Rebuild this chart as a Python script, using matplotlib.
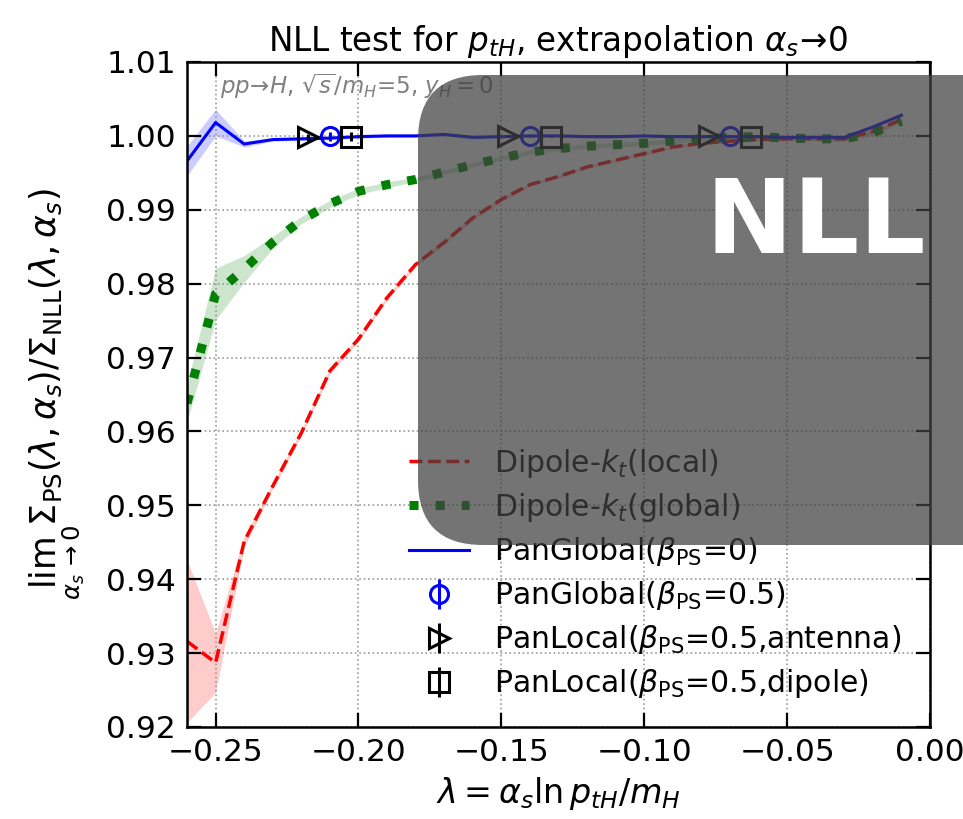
import matplotlib
matplotlib.use("Agg")
import matplotlib.pyplot as plt
from matplotlib.patches import FancyBboxPatch
import numpy as np

# lambda grid of the curves
LAM = [-0.26, -0.25, -0.24, -0.23, -0.22, -0.21, -0.20, -0.19, -0.18,
       -0.17, -0.16, -0.15, -0.14, -0.13, -0.12, -0.11, -0.10, -0.09,
       -0.08, -0.07, -0.06, -0.05, -0.04, -0.03, -0.02, -0.01]

# Dipole-kt (local)
DIP_LOCAL = [0.9316, 0.9287, 0.9451, 0.9526, 0.9598, 0.9682, 0.9725, 0.9781,
             0.9826, 0.9856, 0.9889, 0.9914, 0.9934, 0.9945, 0.9958, 0.9967,
             0.9976, 0.9985, 0.9990, 0.9993, 0.9995, 0.9996, 0.9996, 0.9996,
             1.0006, 1.0022]
DIP_LOCAL_ERR = [0.011, 0.004, 0.0007, 0.0004, 0.0004, 0.0004, 0.0003, 0.0003,
                 0.0003, 0.0003, 0.0003, 0.0003, 0.0002, 0.0002, 0.0002, 0.0002,
                 0.0002, 0.0002, 0.0002, 0.0002, 0.0002, 0.0002, 0.0002, 0.0002,
                 0.0002, 0.0002]

# Dipole-kt (global)
DIP_GLOBAL = [0.9638, 0.9786, 0.9820, 0.9856, 0.9886, 0.9908, 0.9925, 0.9934,
              0.9941, 0.9951, 0.9961, 0.9970, 0.9978, 0.9983, 0.9986, 0.9988,
              0.9990, 0.9993, 0.9996, 0.9998, 0.9999, 0.9997, 0.9996, 0.9996,
              1.0004, 1.0020]
DIP_GLOBAL_ERR = [0.0025, 0.0035, 0.0018, 0.0008, 0.0005, 0.0005, 0.0004, 0.0004,
                  0.0003, 0.0003, 0.0003, 0.0003, 0.0003, 0.0003, 0.0003, 0.0003,
                  0.0003, 0.0003, 0.0003, 0.0003, 0.0003, 0.0003, 0.0003, 0.0003,
                  0.0003, 0.0003]

# PanGlobal beta=0
PANG0 = [0.9966, 1.0018, 0.9989, 0.9995, 0.9996, 0.9997, 0.9999, 1.0000,
         1.0000, 1.0002, 0.9998, 0.9999, 1.0000, 1.0000, 0.9999, 0.9999,
         1.0000, 0.9999, 0.9999, 0.9999, 0.9999, 0.9998, 0.9998, 0.9998,
         1.0012, 1.0028]
PANG0_ERR = [0.002, 0.0018, 0.0004, 0.0002, 0.0002, 0.0002, 0.0002, 0.0002,
             0.0002, 0.0002, 0.0002, 0.0002, 0.0002, 0.0002, 0.0002, 0.0002,
             0.0002, 0.0002, 0.0002, 0.0002, 0.0002, 0.0002, 0.0002, 0.0002,
             0.0002, 0.0002]

# single points with beta=0.5
PANG05_X = [-0.21, -0.14, -0.07]
PANG05_Y = [0.99995, 1.0000, 1.0000]
PANG05_ERR = [0.0006, 0.0001, 0.0001]

ANT_X = [-0.2175, -0.1475, -0.0775]
ANT_Y = [0.9998, 1.0000, 1.0000]
ANT_ERR = [0.0005, 0.0001, 0.0001]

DIP_X = [-0.2025, -0.1325, -0.0625]
DIP_Y = [0.9999, 0.9999, 0.9999]
DIP_ERR = [0.0006, 0.0001, 0.0001]

W, H = 963, 819

fig = plt.figure(figsize=(W / 100, H / 100), dpi=100)
ax = fig.add_axes([187 / W, 1 - 727 / H, (930 - 187) / W, (727 - 62) / H])

lam = np.array(LAM)

def band(y, err, color, **kw):
    y = np.array(y)
    e = np.array(err)
    ax.fill_between(lam, y - e, y + e, color=color, alpha=0.2, linewidth=0)
    return ax.plot(lam, y, color=color, **kw)

band(DIP_LOCAL, DIP_LOCAL_ERR, "red", ls="--", lw=2.5, label=r"Dipole-$k_t$(local)")
band(DIP_GLOBAL, DIP_GLOBAL_ERR, "green", ls=(0, (1, 1.9)), lw=6.5,
     label=r"Dipole-$k_t$(global)")
band(PANG0, PANG0_ERR, "blue", ls="-", lw=2.2, label=r"PanGlobal($\beta_{\rm PS}$=0)")

ax.errorbar(PANG05_X, PANG05_Y, yerr=PANG05_ERR, fmt="o", color="blue", mfc="none",
            ms=13, mew=2.2, elinewidth=2.2, capsize=0, zorder=5,
            label=r"PanGlobal($\beta_{\rm PS}$=0.5)")
ax.errorbar(ANT_X, ANT_Y, yerr=ANT_ERR, fmt=">", color="black", mfc="none",
            ms=15, mew=2.2, elinewidth=2.2, capsize=0, zorder=5,
            label=r"PanLocal($\beta_{\rm PS}$=0.5,antenna)")
ax.errorbar(DIP_X, DIP_Y, yerr=DIP_ERR, fmt="s", color="black", mfc="none",
            ms=14, mew=2.2, elinewidth=2.2, capsize=0, zorder=5,
            label=r"PanLocal($\beta_{\rm PS}$=0.5,dipole)")

ax.set_xlim(-0.26, 0.0)
ax.set_ylim(0.92, 1.01)
ax.set_xticks([-0.25, -0.20, -0.15, -0.10, -0.05, 0.00])
ax.set_yticks([0.92, 0.93, 0.94, 0.95, 0.96, 0.97, 0.98, 0.99, 1.00, 1.01])
ax.set_xticklabels(["\u22120.25", "\u22120.20", "\u22120.15", "\u22120.10", "\u22120.05", "0.00"])
ax.tick_params(direction="in", length=10, width=1.6, labelsize=22.5,
               top=True, right=True, pad=8)
for s in ax.spines.values():
    s.set_linewidth(1.8)
ax.grid(True, ls=":", color="#999999", lw=1.2)

ax.set_xlabel(r"$\lambda = \alpha_s \ln p_{tH}/m_H$", fontsize=24, labelpad=6)
ax.set_ylabel(r"$\lim_{\alpha_s\to 0}\Sigma_{\rm PS}(\lambda,\alpha_s)/\Sigma_{\rm NLL}(\lambda,\alpha_s)$",
              fontsize=25, labelpad=14)
ax.set_title(r"NLL test for $p_{tH}$, extrapolation $\alpha_s\!\to\!0$", fontsize=23.5, pad=8)

ax.text(0.044, 0.985, r"$pp\!\to\!H$, $\sqrt{s}/m_H$=5, $y_H=0$", transform=ax.transAxes,
        fontsize=16.5, color="#808080", va="top", ha="left")

ax.legend(loc="lower right", bbox_to_anchor=(0.997, 0.0), frameon=False,
          fontsize=21.5, handlelength=2.0, handletextpad=0.84, labelspacing=0.37)

# semi-transparent "NLL" stamp over the plot, drawn in pixel coordinates
over = fig.add_axes([0, 0, 1, 1], zorder=10)
over.set_xlim(0, W)
over.set_ylim(H, 0)
over.axis("off")
box = FancyBboxPatch((418 + 65, 75 + 65), 800, 470 - 130,
                     boxstyle="round,pad=65", facecolor="#404040",
                     edgecolor="none", alpha=0.73)
over.add_patch(box)
over.text(706, 253, "NLL OK", color="white", fontsize=75, fontweight="bold",
          ha="left", va="baseline")

fig.savefig("out.png", dpi=100)
